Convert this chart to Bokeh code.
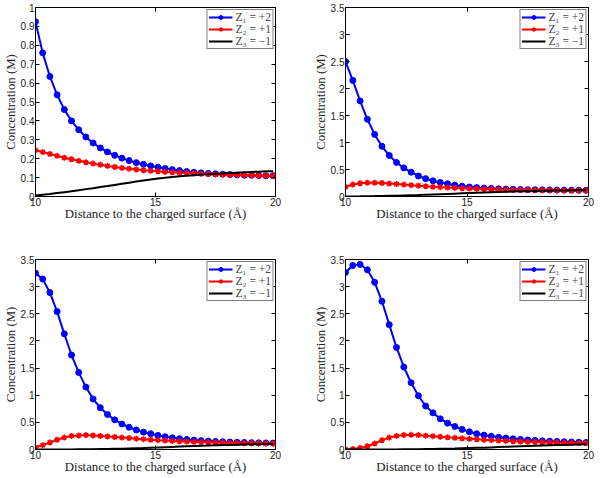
from bokeh.plotting import figure
from bokeh.layouts import column, row
from bokeh.models import LinearAxis, FixedTicker, Range1d
from bokeh.embed import file_html
from bokeh.resources import INLINE

# distance samples (Å)
x = [10.0, 10.3, 10.6, 10.9, 11.2, 11.5, 11.8, 12.1, 12.4, 12.7, 13.0, 13.3, 13.6, 13.9,
     14.2, 14.5, 14.8, 15.1, 15.4, 15.7, 16.0, 16.3, 16.6, 16.9, 17.2, 17.5, 17.8, 18.1,
     18.4, 18.7, 19.0, 19.3, 19.6, 19.9]

# panel 1 (top-left)
blue_1 = [0.925, 0.76, 0.635, 0.538, 0.46, 0.40, 0.353, 0.315, 0.283, 0.257, 0.236, 0.218,
          0.203, 0.19, 0.179, 0.17, 0.162, 0.155, 0.148, 0.142, 0.137, 0.132, 0.128, 0.125,
          0.122, 0.12, 0.118, 0.116, 0.114, 0.113, 0.112, 0.111, 0.11, 0.11]
red_1 = [0.245, 0.235, 0.225, 0.215, 0.205, 0.197, 0.189, 0.181, 0.174, 0.168, 0.162, 0.156,
         0.151, 0.147, 0.143, 0.139, 0.136, 0.133, 0.13, 0.128, 0.126, 0.124, 0.122, 0.12,
         0.119, 0.117, 0.116, 0.115, 0.114, 0.113, 0.112, 0.111, 0.11, 0.109]
black_1 = [0.005, 0.009, 0.013, 0.018, 0.023, 0.028, 0.033, 0.039, 0.044, 0.05, 0.055, 0.061,
           0.067, 0.073, 0.079, 0.085, 0.09, 0.095, 0.099, 0.103, 0.107, 0.11, 0.113, 0.116,
           0.118, 0.12, 0.122, 0.124, 0.126, 0.128, 0.13, 0.131, 0.133, 0.134]

# panel 2 (top-right)
blue_2 = [2.50, 2.15, 1.77, 1.43, 1.15, 0.93, 0.76, 0.63, 0.53, 0.45, 0.38, 0.33, 0.29, 0.26,
          0.235, 0.21, 0.19, 0.176, 0.165, 0.156, 0.149, 0.143, 0.138, 0.134, 0.13, 0.127,
          0.125, 0.123, 0.121, 0.119, 0.118, 0.117, 0.116, 0.115]
red_2 = [0.18, 0.22, 0.245, 0.255, 0.255, 0.25, 0.24, 0.23, 0.22, 0.21, 0.2, 0.19, 0.18, 0.172,
         0.165, 0.158, 0.152, 0.147, 0.142, 0.138, 0.134, 0.13, 0.127, 0.124, 0.122, 0.12,
         0.118, 0.116, 0.114, 0.113, 0.112, 0.111, 0.11, 0.109]
black_2 = [0.001, 0.002, 0.003, 0.005, 0.007, 0.01, 0.013, 0.016, 0.02, 0.024, 0.028, 0.033,
           0.038, 0.043, 0.048, 0.053, 0.058, 0.063, 0.068, 0.073, 0.078, 0.083, 0.087, 0.091,
           0.095, 0.099, 0.102, 0.105, 0.108, 0.111, 0.113, 0.115, 0.117, 0.119]

# panel 3 (bottom-left)
blue_3 = [3.25, 3.14, 2.89, 2.54, 2.13, 1.74, 1.42, 1.15, 0.93, 0.77, 0.645, 0.546, 0.47, 0.41,
          0.36, 0.32, 0.29, 0.26, 0.235, 0.215, 0.2, 0.185, 0.173, 0.163, 0.155, 0.148, 0.142,
          0.137, 0.133, 0.129, 0.126, 0.123, 0.121, 0.119]
red_3 = [0.04, 0.08, 0.13, 0.18, 0.22, 0.25, 0.26, 0.265, 0.26, 0.25, 0.24, 0.23, 0.22, 0.21,
         0.2, 0.19, 0.18, 0.172, 0.165, 0.158, 0.152, 0.146, 0.141, 0.136, 0.132, 0.128, 0.125,
         0.122, 0.119, 0.117, 0.115, 0.113, 0.111, 0.11]
black_3 = [0.0, 0.0, 0.0, 0.001, 0.001, 0.002, 0.003, 0.004, 0.006, 0.008, 0.01, 0.013, 0.016,
           0.02, 0.024, 0.028, 0.033, 0.038, 0.043, 0.048, 0.053, 0.058, 0.063, 0.068, 0.073,
           0.077, 0.081, 0.085, 0.089, 0.092, 0.095, 0.098, 0.101, 0.104]

# panel 4 (bottom-right)
blue_4 = [3.26, 3.39, 3.41, 3.31, 3.08, 2.73, 2.30, 1.88, 1.52, 1.23, 0.99, 0.80, 0.675, 0.565,
          0.485, 0.424, 0.37, 0.325, 0.29, 0.265, 0.243, 0.225, 0.21, 0.197, 0.186, 0.176,
          0.168, 0.16, 0.154, 0.148, 0.143, 0.138, 0.134, 0.13]
red_4 = [0.0, 0.01, 0.03, 0.06, 0.11, 0.17, 0.22, 0.25, 0.265, 0.27, 0.265, 0.255, 0.245, 0.235,
         0.225, 0.215, 0.205, 0.196, 0.187, 0.179, 0.171, 0.164, 0.158, 0.152, 0.147, 0.142,
         0.138, 0.134, 0.13, 0.127, 0.124, 0.121, 0.119, 0.117]
black_4 = [0.0, 0.0, 0.0, 0.0, 0.0, 0.001, 0.001, 0.002, 0.003, 0.004, 0.005, 0.007, 0.009,
           0.012, 0.015, 0.018, 0.022, 0.026, 0.03, 0.034, 0.039, 0.044, 0.049, 0.054, 0.059,
           0.064, 0.069, 0.073, 0.077, 0.081, 0.085, 0.089, 0.092, 0.095]

x_ticks = [10, 15, 20]
y_ticks_small = [0, 0.1, 0.2, 0.3, 0.4, 0.5, 0.6, 0.7, 0.8, 0.9, 1]
y_ticks_large = [0, 0.5, 1, 1.5, 2, 2.5, 3, 3.5]
y_labels_small = {0: "0", 1: "1"}
y_labels_large = {0: "0", 1: "1", 2: "2", 3: "3"}

legend_labels = ["Z\u2081 = +2", "Z\u2082 = +1", "Z\u2083 = \u22121"]

TICK_FONT = "Liberation Sans"
LABEL_FONT = "Liberation Serif"


def style_axis(ax, ticks, show_labels=True, overrides=None):
    ax.ticker = FixedTicker(ticks=ticks)
    ax.major_tick_in = 4
    ax.major_tick_out = 0
    ax.minor_tick_line_color = None
    ax.axis_line_color = "black"
    ax.major_tick_line_color = "black"
    ax.major_label_text_font = TICK_FONT
    if show_labels:
        ax.major_label_text_color = "#222222"
        ax.major_label_text_font_size = "10px"
        ax.major_label_standoff = 1
        if overrides:
            ax.major_label_overrides = overrides
    else:
        ax.major_label_text_color = None
        ax.major_label_text_font_size = "1px"
        ax.major_label_standoff = 0


def panel(blue, red, black, ymax, yticks, ylabels, width, height, bl, br, bt, bb):
    p = figure(width=width, height=height, output_backend="svg", toolbar_location=None,
               x_range=Range1d(10, 20), y_range=Range1d(0, ymax),
               min_border_left=bl, min_border_right=br, min_border_top=bt, min_border_bottom=bb)
    p.xgrid.visible = False
    p.ygrid.visible = False
    p.outline_line_color = "black"
    p.outline_line_width = 1
    p.background_fill_color = "white"

    p.line(x, blue, color="#0000ff", line_width=2, legend_label=legend_labels[0])
    p.scatter(x, blue, marker="circle", size=6, color="#0000ff", legend_label=legend_labels[0])
    p.line(x, red, color="#ff0000", line_width=2, legend_label=legend_labels[1])
    p.scatter(x, red, marker="asterisk", size=6, line_color="#ff0000", line_width=1.5,
              legend_label=legend_labels[1])
    p.line(x, black, color="black", line_width=2, legend_label=legend_labels[2])

    style_axis(p.xaxis[0], x_ticks)
    style_axis(p.yaxis[0], yticks, overrides=ylabels)
    p.xaxis.axis_label = "Distance to the charged surface (\u00c5)"
    p.yaxis.axis_label = "Concentration (M)"
    for ax in (p.xaxis[0], p.yaxis[0]):
        ax.axis_label_text_font = LABEL_FONT
        ax.axis_label_text_font_size = "12.8px"
        ax.axis_label_text_font_style = "normal"
        ax.axis_label_text_color = "#222222"
    p.xaxis[0].axis_label_standoff = -2
    p.yaxis[0].axis_label_standoff = 0

    top = LinearAxis()
    style_axis(top, x_ticks, show_labels=False)
    p.add_layout(top, "above")
    right = LinearAxis()
    style_axis(right, yticks, show_labels=False)
    p.add_layout(right, "right")

    lg = p.legend[0]
    lg.location = "top_right"
    lg.margin = 2
    lg.padding = 1
    lg.spacing = 0
    lg.border_line_color = "black"
    lg.border_line_width = 1
    lg.label_text_font = LABEL_FONT
    lg.label_text_font_size = "11.5px"
    lg.label_height = 10
    lg.glyph_height = 10
    lg.glyph_width = 24
    lg.label_standoff = 3
    lg.background_fill_alpha = 1
    return p


p1 = panel(blue_1, red_1, black_1, 1, y_ticks_small, y_labels_small, 300, 240, 35, 25, 7, 44)
p2 = panel(blue_2, red_2, black_2, 3.5, y_ticks_large, y_labels_large, 300, 240, 45, 12, 7, 44)
p3 = panel(blue_3, red_3, black_3, 3.5, y_ticks_large, y_labels_large, 300, 238, 35, 25, 19, 29)
p4 = panel(blue_4, red_4, black_4, 3.5, y_ticks_large, y_labels_large, 300, 238, 45, 12, 19, 29)

layout = column(row(p1, p2), row(p3, p4))

open("out.html", "w").write(file_html(layout, INLINE))
